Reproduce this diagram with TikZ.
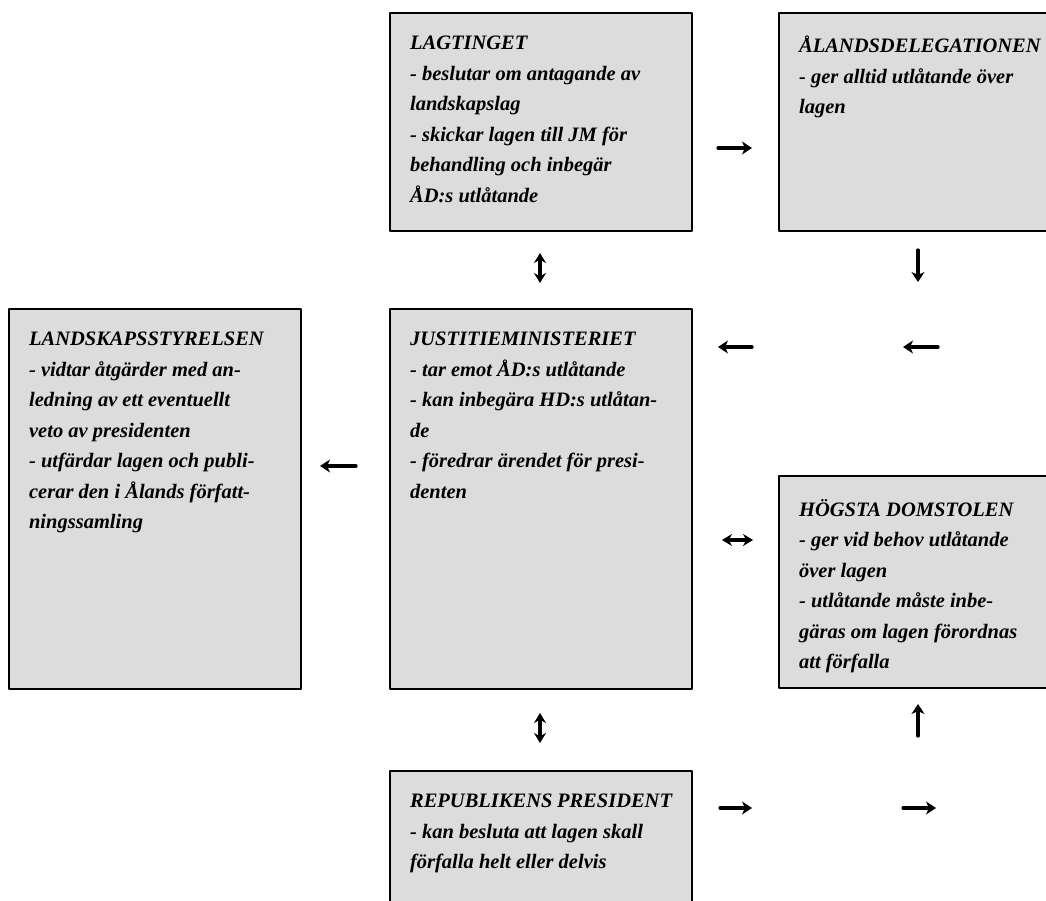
\documentclass[tikz,border=0pt]{standalone}
\usepackage{fontspec}
\setmainfont{Liberation Serif}
\usetikzlibrary{arrows.meta,positioning}
\definecolor{orgshade}{RGB}{220,220,220}

% box body: width, height, text
\newcommand{\orgbody}[3]{%
  \begin{minipage}[c][#2][t]{#1}\raggedright\vspace*{23pt}#3\end{minipage}}

\begin{document}
\begin{tikzpicture}[x=1pt, y=-1pt, >=Stealth, line cap=round, line join=round,
    organ/.style={draw, line width=2.2pt, fill=orgshade, anchor=north west,
      inner xsep=20pt, inner ysep=0pt,
      font=\fontsize{20.5}{30.5}\selectfont\bfseries\itshape},
    flow/.style={line width=3.2pt, -{Stealth[length=10pt,width=13pt,inset=3pt]}},
    both/.style={line width=3.2pt, {Stealth[length=10pt,width=12pt]}-{Stealth[length=10pt,width=12pt]}}]
  \clip (0,0) rectangle (1046,901);

  % Organs
  \node[organ] (lag) at (389,12) {\orgbody{262pt}{218pt}{%
    LAGTINGET\\
    - beslutar om antagande av\\
    landskapslag\\
    - skickar lagen till JM för\\
    behandling och inbegär\\
    ÅD:s utlåtande}};
  \node[organ] (ad) at (778,12) {\orgbody{240pt}{218pt}{%
    ÅLANDSDELEGATIONEN\\
    - ger alltid utlåtande över\\
    lagen}};
  \node[organ] (ls) at (8,308) {\orgbody{252pt}{380pt}{%
    LANDSKAPSSTYRELSEN\\
    - vidtar åtgärder med an-\\
    ledning av ett eventuellt\\
    veto av presidenten\\
    - utfärdar lagen och publi-\\
    cerar den i Ålands författ-\\
    ningssamling}};
  \node[organ] (jm) at (389,308) {\orgbody{262pt}{380pt}{%
    JUSTITIEMINISTERIET\\
    - tar emot ÅD:s utlåtande\\
    - kan inbegära HD:s utlåtan-\\
    de\\
    - föredrar ärendet för presi-\\
    denten}};
  \node[organ] (hd) at (778,475) {\orgbody{240pt}{212pt}{%
    HÖGSTA DOMSTOLEN\\
    - ger vid behov utlåtande\\
    över lagen\\
    - utlåtande måste inbe-\\
    gäras om lagen förordnas\\
    att förfalla}};
  \node[organ] (rp) at (389,770) {\orgbody{262pt}{150pt}{%
    REPUBLIKENS PRESIDENT\\
    - kan besluta att lagen skall\\
    förfalla helt eller delvis}};

  % Arrow ends
  \foreach \name/\x/\y in {f1a/718/148, f1b/752/148, f2a/918/250, f2b/918/282,
      f3a/752/347, f3b/718/347, f4a/938/347, f4b/903/347, f5a/356/466, f5b/320/466,
      f6a/918/736, f6b/918/704, f7a/720/808, f7b/752/808, f8a/903/808, f8b/936/808,
      b1a/540/253, b1b/540/283, b2a/722/540, b2b/753/540, b3a/540/713, b3b/540/743}
    \coordinate (\name) at (\x,\y);

  % One-way arrows
  \foreach \a/\b in {f1a/f1b, f2a/f2b, f3a/f3b, f4a/f4b, f5a/f5b, f6a/f6b, f7a/f7b, f8a/f8b}
    \draw[flow] (\a) -- (\b);

  % Two-way arrows
  \foreach \a/\b in {b1a/b1b, b2a/b2b, b3a/b3b}
    \draw[both] (\a) -- (\b);
\end{tikzpicture}
\end{document}
